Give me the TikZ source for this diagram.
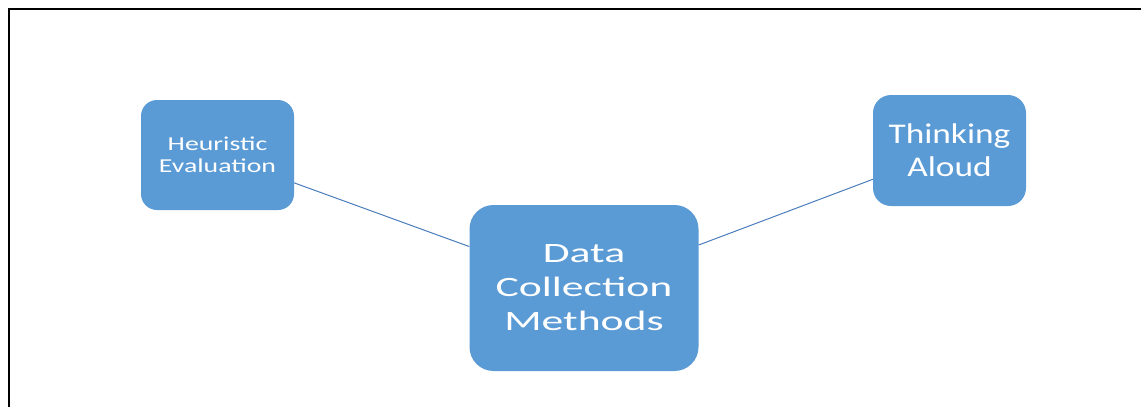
\documentclass[tikz,border=0pt]{standalone}
\usepackage{fontspec}
\newfontfamily\hfont[FakeStretch=1.41]{Carlito}
\newfontfamily\tfont[FakeStretch=1.24]{Carlito}
\newfontfamily\dfont[FakeStretch=1.56]{Carlito}
\definecolor{boxblue}{HTML}{5B9BD5}
\definecolor{linkblue}{HTML}{4A7EBB}
\tikzset{
  topic/.style={rectangle, fill=boxblue, draw=none, text=white, align=center, inner sep=0pt},
  link/.style={draw=linkblue, line width=1pt},
  frame/.style={draw=black, line width=2pt}
}
\begin{document}
\begin{tikzpicture}[x=1pt, y=-1pt]
\useasboundingbox (0,0) rectangle (1141,407);
\draw[frame] (9,407) -- (9,9) -- (1141,9);
\node[topic, minimum width=153pt, minimum height=110pt, rounded corners=16pt,
      font=\hfont\fontsize{19.7}{21.7}\selectfont] (h) at (217.5,155) {Heuristic\\Evaluation};
\node[topic, minimum width=153pt, minimum height=111pt, rounded corners=18pt,
      font=\tfont\fontsize{28.5}{32.6}\selectfont] (t) at (949.5,150.5) {Thinking\\Aloud};
\node[topic, minimum width=229pt, minimum height=166pt, rounded corners=24pt,
      font=\dfont\fontsize{28}{34}\selectfont] (d) at (584,288) {Data\\Collection\\Methods};
\draw[link] (h) -- (d);
\draw[link] (d) -- (t);
\end{tikzpicture}
\end{document}
